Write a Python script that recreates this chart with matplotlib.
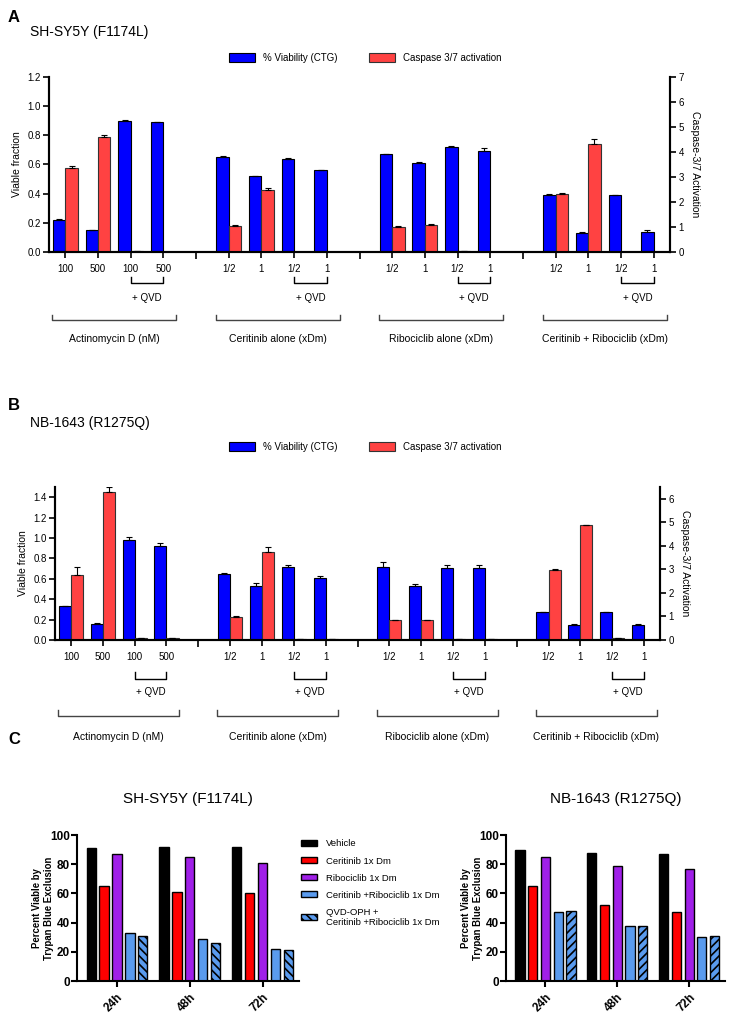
import numpy as np
import matplotlib.pyplot as plt
from matplotlib.patches import Patch

plt.rcParams['font.family'] = ['Liberation Sans', 'DejaVu Sans']
plt.rcParams['hatch.linewidth'] = 1.2

# ---- panels A and B data ----
dose_labels = ['100', '500', '100', '500',
               '1/2', '1', '1/2', '1',
               '1/2', '1', '1/2', '1',
               '1/2', '1', '1/2', '1']
group_names = ['Actinomycin D (nM)', 'Ceritinib alone (xDm)',
               'Ribociclib alone (xDm)', 'Ceritinib + Ribociclib (xDm)']

a_viab = [0.22, 0.15, 0.90, 0.89, 0.65, 0.52, 0.64, 0.56,
          0.67, 0.61, 0.72, 0.69, 0.39, 0.13, 0.39, 0.14]
a_viab_err = [0.005, 0.003, 0.004, 0.004, 0.006, 0.003, 0.006, 0.004,
              0.004, 0.005, 0.010, 0.025, 0.006, 0.004, 0.004, 0.008]
a_casp = [3.37, 4.60, 0.02, 0.01, 1.04, 2.49, 0.01, 0.01,
          1.00, 1.08, 0.02, 0.01, 2.32, 4.32, 0.01, 0.01]
a_casp_err = [0.06, 0.07, 0, 0, 0.02, 0.08, 0, 0,
              0.02, 0.03, 0, 0, 0.05, 0.20, 0, 0]

b_viab = [0.33, 0.16, 0.98, 0.92, 0.65, 0.53, 0.72, 0.61,
          0.72, 0.53, 0.71, 0.71, 0.27, 0.15, 0.27, 0.15]
b_viab_err = [0.005, 0.004, 0.03, 0.03, 0.008, 0.03, 0.015, 0.015,
              0.04, 0.02, 0.03, 0.03, 0.004, 0.004, 0.005, 0.004]
b_casp = [2.77, 6.30, 0.09, 0.09, 0.99, 3.75, 0.03, 0.03,
          0.85, 0.85, 0.03, 0.03, 2.99, 4.87, 0.07, 0.02]
b_casp_err = [0.34, 0.18, 0, 0, 0.02, 0.20, 0, 0,
              0, 0, 0, 0, 0.03, 0.02, 0, 0]

# ---- panel C data ----
c_times = ['24h', '48h', '72h']
c_series = ['Vehicle', 'Ceritinib 1x Dm', 'Ribociclib 1x Dm',
            'Ceritinib +Ribociclib 1x Dm',
            'QVD-OPH +\nCeritinib +Ribociclib 1x Dm']
sh_vehicle = [91, 92, 92]
sh_ceritinib = [65, 61, 60]
sh_ribociclib = [87, 85, 81]
sh_combo = [33, 29, 22]
sh_qvd_combo = [31, 26, 21]
nb_vehicle = [90, 88, 87]
nb_ceritinib = [65, 52, 47]
nb_ribociclib = [85, 79, 77]
nb_combo = [47, 37.7, 30]
nb_qvd_combo = [48, 38, 31]

BLUE = '#0000FF'
RED = '#FF4242'
W, H = 732, 1019

fig = plt.figure(figsize=(W / 100, H / 100), dpi=100)


def rect(x0, x1, ytop, ybot):
    return [x0 / W, 1 - ybot / H, (x1 - x0) / W, (ybot - ytop) / H]


def draw_ab(r, viab, viab_err, casp, casp_err, lmax, lticks, rmax, rticks,
            offs, legend_y):
    ax = fig.add_axes(r)
    ax2 = ax.twinx()
    x = np.array([g * 5 + i for g in range(4) for i in range(4)])
    z = np.zeros(len(x))
    ax.bar(x - 0.19, viab, 0.38, color=BLUE, edgecolor='black', lw=0.8,
           yerr=[z, viab_err], capsize=2.5,
           error_kw=dict(lw=0.8, capthick=0.8))
    ax2.bar(x + 0.19, casp, 0.38, color=RED, edgecolor='#333333', lw=0.8,
            yerr=[z, casp_err], capsize=2.5,
            error_kw=dict(lw=0.8, capthick=0.8))
    ax.set_xlim(-0.5, 18.5)
    ax.set_ylim(0, lmax)
    ax2.set_ylim(0, rmax)
    ax.set_yticks(lticks)
    ax.set_yticklabels(['%.1f' % t for t in lticks])
    ax2.set_yticks(rticks)
    ax.set_xticks(x)
    ax.set_xticklabels(dose_labels)
    ax.set_xticks([4, 9, 14], minor=True)
    for a in (ax, ax2):
        a.spines['top'].set_visible(False)
        for s in ('left', 'right', 'bottom'):
            a.spines[s].set_linewidth(1.5)
        a.tick_params(labelsize=7, length=4, width=1.2, pad=2)
    ax.tick_params(axis='x', which='minor', length=5, width=1.2)
    ax.tick_params(axis='x', pad=5)
    ax.set_ylabel('Viable fraction', fontsize=7.5, labelpad=4)
    ax2.set_ylabel('Caspase-3/7 Activation', fontsize=7.5, rotation=270,
                   labelpad=12)
    hpx = r[3] * H
    tr = ax.get_xaxis_transform()
    q_top, q_bot, q_txt, g_top, g_bot, g_txt = [-o / hpx for o in offs]
    for g in range(4):
        c = g * 5
        ax.plot([c + 2, c + 2, c + 3, c + 3], [q_top, q_bot, q_bot, q_top],
                color='black', lw=1.0, transform=tr, clip_on=False)
        ax.text(c + 2.5, q_txt, '+ QVD', fontsize=7, ha='center',
                va='center', transform=tr)
        ax.plot([c - 0.4, c - 0.4, c + 3.4, c + 3.4],
                [g_top, g_bot, g_bot, g_top], color='#444444', lw=1.0,
                transform=tr, clip_on=False)
        ax.text(c + 1.5, g_txt, group_names[g], fontsize=7.5, ha='center',
                va='center', transform=tr)
    handles = [Patch(facecolor=BLUE, edgecolor='black', lw=0.8),
               Patch(facecolor=RED, edgecolor='#333333', lw=0.8)]
    fig.legend(handles, ['% Viability (CTG)', 'Caspase 3/7 activation'],
               loc='center', bbox_to_anchor=(0.499, legend_y), ncol=2,
               frameon=False, fontsize=7, handlelength=2.7,
               handleheight=1.0, columnspacing=3.2, handletextpad=0.8)


draw_ab(rect(49, 670, 77, 252), a_viab, a_viab_err, a_casp, a_casp_err,
        1.2, np.arange(0, 1.21, 0.2), 7, range(8),
        (25, 31, 46, 63, 68, 87), 1 - 58 / H)
draw_ab(rect(55, 660, 487, 640), b_viab, b_viab_err, b_casp, b_casp_err,
        1.5, np.arange(0, 1.41, 0.2), 6.5, range(7),
        (32, 39, 52, 70, 76, 97), 1 - 447 / H)

fig.text(8 / W, 1 - 17 / H, 'A', fontsize=12, fontweight='bold', va='center')
fig.text(30 / W, 1 - 32 / H, 'SH-SY5Y (F1174L)', fontsize=10, va='center')
fig.text(8 / W, 1 - 405 / H, 'B', fontsize=12, fontweight='bold', va='center')
fig.text(30 / W, 1 - 423 / H, 'NB-1643 (R1275Q)', fontsize=10, va='center')
fig.text(8 / W, 1 - 740 / H, 'C', fontsize=12, fontweight='bold', va='center')

c_colors = ['black', '#FF0000', '#A020E8', '#5A9BEE', '#5A9BEE']


def draw_c(r, series, hatch, title):
    ax = fig.add_axes(r)
    x = np.arange(len(c_times))
    for i, vals in enumerate(series):
        ax.bar(x + (i - 2) * 0.177, vals, 0.128, color=c_colors[i],
               edgecolor='black', lw=1.0, hatch=hatch if i == 4 else None,
               label=c_series[i])
    ax.set_xlim(-0.55, 2.5)
    ax.set_ylim(0, 100)
    ax.set_yticks(range(0, 101, 20))
    ax.set_xticks(x)
    ax.set_xticklabels(c_times, rotation=45, ha='right',
                       rotation_mode='anchor', fontweight='bold', fontsize=8.5)
    for s in ('top', 'right'):
        ax.spines[s].set_visible(False)
    for s in ('left', 'bottom'):
        ax.spines[s].set_linewidth(1.5)
    ax.tick_params(axis='y', labelsize=8.5, length=4, width=1.5, pad=1)
    ax.tick_params(axis='x', length=4, width=1.5)
    for lab in ax.get_yticklabels():
        lab.set_fontweight('bold')
    ax.set_ylabel('Percent Viable by\nTrypan Blue Exclusion', fontsize=6.9,
                  fontweight='bold')
    ax.yaxis.set_label_coords(-0.105, 0.5)
    ax.set_title(title, fontsize=11, pad=23)
    return ax


ax_c1 = draw_c(rect(77, 299, 835, 981),
               [sh_vehicle, sh_ceritinib, sh_ribociclib, sh_combo, sh_qvd_combo],
               '\\\\\\\\', 'SH-SY5Y (F1174L)')
ax_c2 = draw_c(rect(506, 725, 835, 981),
               [nb_vehicle, nb_ceritinib, nb_ribociclib, nb_combo, nb_qvd_combo],
               '////', 'NB-1643 (R1275Q)')

h, l = ax_c1.get_legend_handles_labels()
fig.legend(h, l, loc='upper left', bbox_to_anchor=(292 / W, 1 - 831 / H),
           frameon=False, fontsize=6.8, handlelength=1.7, handleheight=0.6,
           handletextpad=1.0, labelspacing=0.85)

fig.savefig('out.png', dpi=100)
